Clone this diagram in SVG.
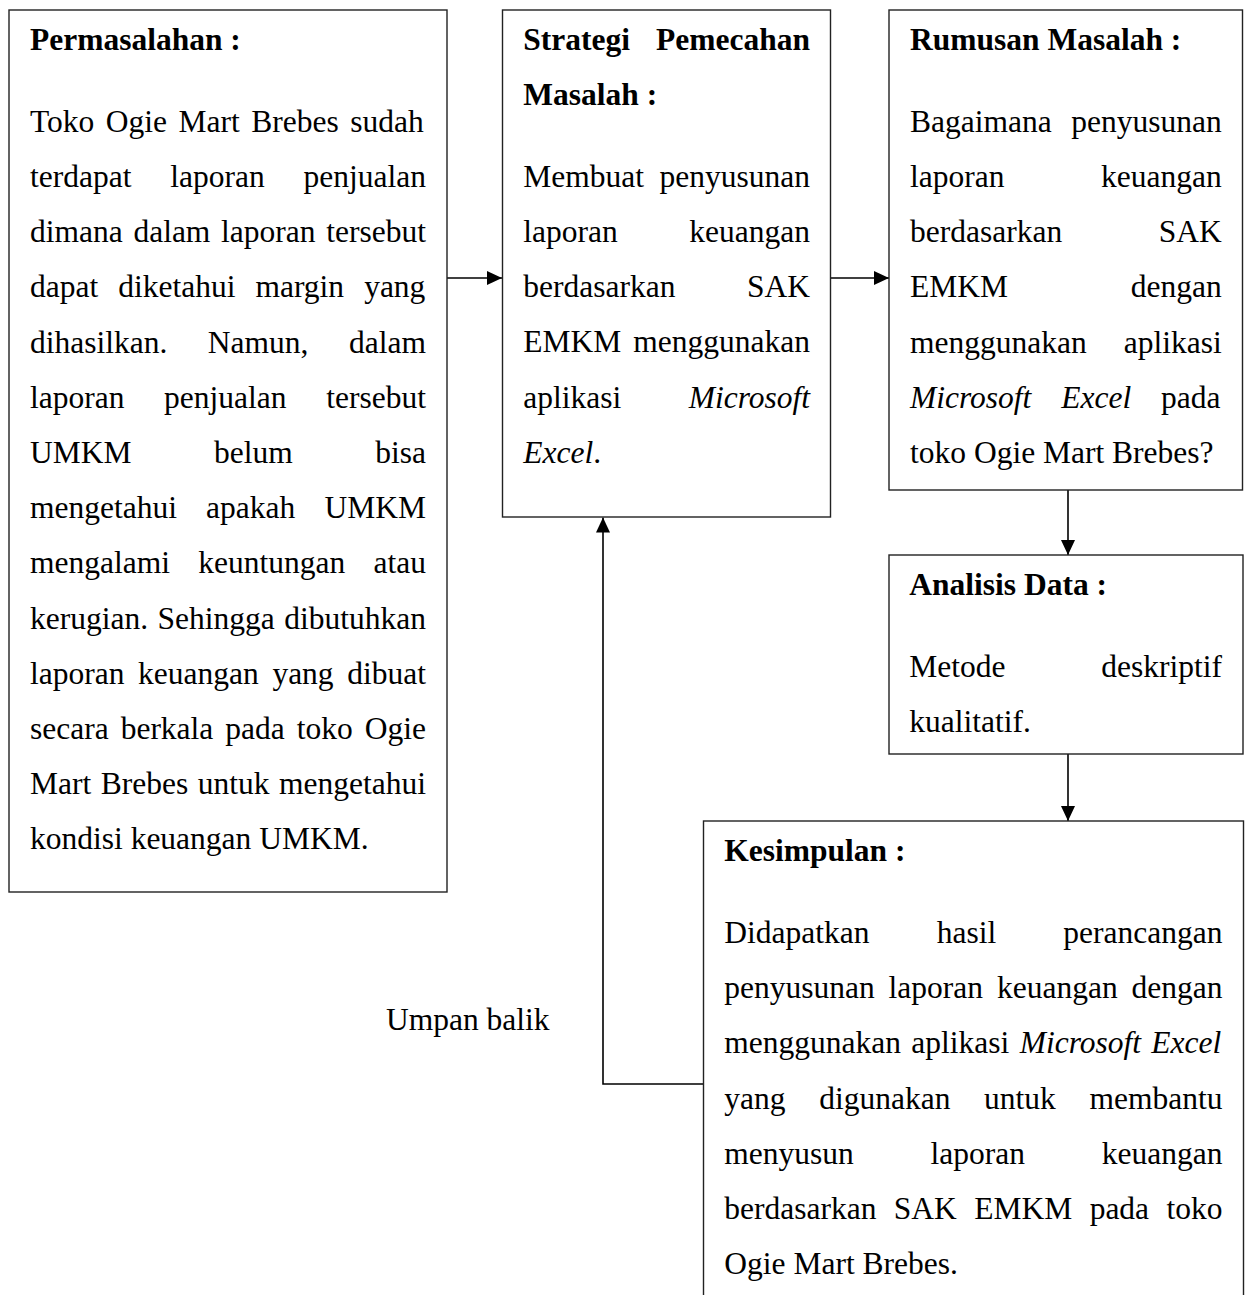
<svg xmlns="http://www.w3.org/2000/svg" width="1253" height="1295" viewBox="0 0 1253 1295">
<defs>
<marker id="arr" viewBox="0 0 15 14" refX="15" refY="7" markerWidth="15" markerHeight="14" markerUnits="userSpaceOnUse" orient="auto">
<path d="M0,0 L15,7 L0,14 z" fill="#000"/>
</marker>
<style>
.box{fill:#fff;stroke:#222;stroke-width:1.4}
.t{font-family:"Liberation Serif","Times New Roman",serif;font-size:31.5px;fill:#000}
.b{font-weight:bold}
.i{font-style:italic}
.e{text-anchor:end}
.con{fill:none;stroke:#000;stroke-width:1.6}
</style>
</defs>
<rect width="1253" height="1295" fill="#fff"/>

<g id="connectors">
<path class="con" d="M447,278 H502" marker-end="url(#arr)"/>
<path class="con" d="M831,278 H889" marker-end="url(#arr)"/>
<path class="con" d="M1068,490 V555" marker-end="url(#arr)"/>
<path class="con" d="M1068,754 V821" marker-end="url(#arr)"/>
<path class="con" d="M703.5,1084 H603 V517.5" marker-end="url(#arr)"/>
<text class="t" x="386" y="1030">Umpan balik</text>
</g>

<g id="permasalahan">
<rect class="box" x="9" y="10" width="438" height="882"/>
<text class="t b" x="30" y="50">Permasalahan :</text>
<text class="t" x="30" y="131.7" word-spacing="3.64">Toko Ogie Mart Brebes sudah</text>
<text class="t" x="30" y="186.9" word-spacing="30.9">terdapat laporan penjualan</text>
<text class="t" x="30" y="242.1" word-spacing="2.82">dimana dalam laporan tersebut</text>
<text class="t" x="30" y="297.3" word-spacing="12.14">dapat diketahui margin yang</text>
<text class="t" x="30" y="352.5" word-spacing="32.64">dihasilkan. Namun, dalam</text>
<text class="t" x="30" y="407.7" word-spacing="31.79">laporan penjualan tersebut</text>
<text class="t" x="30" y="462.9" word-spacing="74.63">UMKM belum bisa</text>
<text class="t" x="30" y="518.1" word-spacing="21.28">mengetahui apakah UMKM</text>
<text class="t" x="30" y="573.3" word-spacing="20.4">mengalami keuntungan atau</text>
<text class="t" x="30" y="628.5" word-spacing="1.58">kerugian. Sehingga dibutuhkan</text>
<text class="t" x="30" y="683.7" word-spacing="5.74">laporan keuangan yang dibuat</text>
<text class="t" x="30" y="738.9" word-spacing="4.1">secara berkala pada toko Ogie</text>
<text class="t" x="30" y="794.1" word-spacing="1.64">Mart Brebes untuk mengetahui</text>
<text class="t" x="30" y="849.3">kondisi keuangan UMKM.</text>
</g>

<g id="strategi">
<rect class="box" x="502.5" y="10" width="328" height="507"/>
<text class="t b" x="523.3" y="50">Strategi</text>
<text class="t b e" x="810" y="50">Pemecahan</text>
<text class="t b" x="523.3" y="105">Masalah :</text>
<text class="t" x="523.3" y="187">Membuat</text>
<text class="t e" x="810" y="187">penyusunan</text>
<text class="t" x="523.3" y="242">laporan</text>
<text class="t e" x="810" y="242">keuangan</text>
<text class="t" x="523.3" y="297">berdasarkan</text>
<text class="t e" x="810" y="297">SAK</text>
<text class="t" x="523.3" y="352">EMKM</text>
<text class="t e" x="810" y="352">menggunakan</text>
<text class="t" x="523.3" y="408">aplikasi</text>
<text class="t i e" x="810" y="408">Microsoft</text>
<text class="t" x="523.3" y="463"><tspan class="i">Excel</tspan>.</text>
</g>

<g id="rumusan">
<rect class="box" x="889" y="10" width="353.5" height="480"/>
<text class="t b" x="910" y="50">Rumusan Masalah :</text>
<text class="t" x="910" y="131.7">Bagaimana</text>
<text class="t e" x="1221.7" y="131.7">penyusunan</text>
<text class="t" x="910" y="186.9">laporan</text>
<text class="t e" x="1221.7" y="186.9">keuangan</text>
<text class="t" x="910" y="242.1">berdasarkan</text>
<text class="t e" x="1221.7" y="242.1">SAK</text>
<text class="t" x="910" y="297.3">EMKM</text>
<text class="t e" x="1221.7" y="297.3">dengan</text>
<text class="t" x="910" y="352.5">menggunakan</text>
<text class="t e" x="1221.7" y="352.5">aplikasi</text>
<text class="t" x="910" y="407.7" word-spacing="22"><tspan class="i">Microsoft Excel</tspan> pada</text>
<text class="t" x="910" y="462.9">toko Ogie Mart Brebes?</text>
</g>

<g id="analisis">
<rect class="box" x="889" y="555" width="354" height="199"/>
<text class="t b" x="909.3" y="595">Analisis Data :</text>
<text class="t" x="909.3" y="677">Metode</text>
<text class="t e" x="1222" y="677">deskriptif</text>
<text class="t" x="909.3" y="732">kualitatif.</text>
</g>

<g id="kesimpulan">
<rect class="box" x="703.5" y="821" width="540" height="500"/>
<text class="t b" x="724.3" y="861">Kesimpulan :</text>
<text class="t" x="724.3" y="943" word-spacing="59.28">Didapatkan hasil perancangan</text>
<text class="t" x="724.3" y="998.2" word-spacing="5.98">penyusunan laporan keuangan dengan</text>
<text class="t" x="724.3" y="1053.4" word-spacing="2.47">menggunakan aplikasi <tspan class="i">Microsoft Excel</tspan></text>
<text class="t" x="724.3" y="1108.6" word-spacing="25.79">yang digunakan untuk membantu</text>
<text class="t" x="724.3" y="1163.8" word-spacing="68.89">menyusun laporan keuangan</text>
<text class="t" x="724.3" y="1219" word-spacing="9.51">berdasarkan SAK EMKM pada toko</text>
<text class="t" x="724.3" y="1274.2">Ogie Mart Brebes.</text>
</g>
</svg>
